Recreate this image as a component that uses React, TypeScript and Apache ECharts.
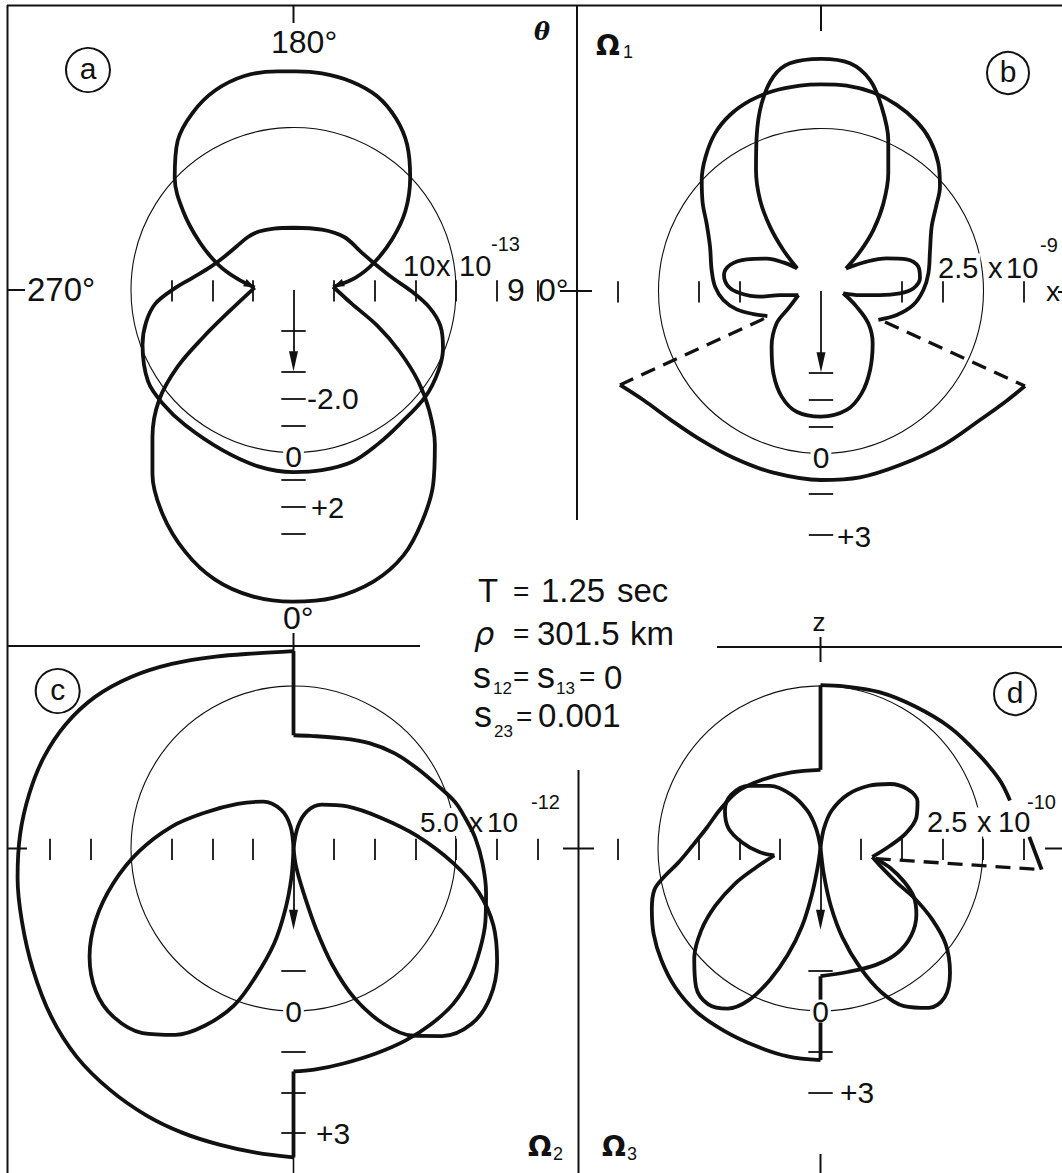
import { useEffect, useRef } from 'react';
import * as echarts from 'echarts';

type Pt = [number, number];

const PAGE_W = 1062;
const PAGE_H = 1173;
const UNIT_PX = 162.5; // page radius of every reference circle
const INK = '#111';
const SANS = '"Liberation Sans", Arial, sans-serif';

// Panel centres on the page (layout only)
const PANEL_CENTERS: Pt[] = [
  [293.5, 290],
  [821, 291],
  [293.5, 848.5],
  [820.5, 848.5],
];

// All curve points are in units of the panel's reference circle (x right, y up).

// ---- (a) reference circle 10 x 10^-13 ----
const A_UPPER_LOBE: Pt[] = [
  [-0.239, 0.015], [-0.349, 0.071], [-0.462, 0.155], [-0.576, 0.292], [-0.679, 0.485], [-0.731, 0.69],
  [-0.713, 0.918], [-0.622, 1.089], [-0.485, 1.226], [-0.303, 1.317], [-0.098, 1.346], [0.016, 1.346],
  [0.175, 1.333], [0.358, 1.282], [0.517, 1.191], [0.631, 1.055], [0.699, 0.895], [0.718, 0.69],
  [0.688, 0.485], [0.608, 0.314], [0.494, 0.166], [0.38, 0.075], [0.244, 0.02],
];
const A_LOWER_LOBE: Pt[] = [
  [0.244, 0.02], [0.358, -0.084], [0.517, -0.221], [0.654, -0.38], [0.768, -0.563], [0.836, -0.745],
  [0.87, -0.95], [0.859, -1.2], [0.79, -1.428], [0.677, -1.633], [0.494, -1.793], [0.244, -1.895],
  [-0.007, -1.918], [-0.257, -1.884], [-0.485, -1.781], [-0.667, -1.61], [-0.804, -1.383], [-0.868, -1.132],
  [-0.868, -0.904], [-0.827, -0.677], [-0.713, -0.472], [-0.554, -0.289], [-0.394, -0.13], [-0.239, 0.015],
];
const A_INNER_LOOP: Pt[] = [
  [0, 0.383], [0.175, 0.371], [0.312, 0.326], [0.415, 0.235], [0.494, 0.166], [0.608, 0.075], [0.722, -0.005],
  [0.836, -0.107], [0.904, -0.221], [0.92, -0.358], [0.893, -0.494], [0.813, -0.654], [0.654, -0.825],
  [0.517, -0.95], [0.358, -1.059], [0.175, -1.109], [0, -1.121], [-0.212, -1.087], [-0.44, -0.984],
  [-0.667, -0.831], [-0.804, -0.7], [-0.895, -0.563], [-0.929, -0.335], [-0.907, -0.198], [-0.85, -0.084],
  [-0.736, 0.007], [-0.622, 0.075], [-0.508, 0.144], [-0.417, 0.212], [-0.349, 0.269], [-0.28, 0.326],
  [-0.212, 0.36], [-0.121, 0.378], [0, 0.383],
];

// ---- (b) reference circle 2.5 x 10^-9 ----
const B_OUTER: Pt[] = [
  [-0.33, -0.154], [-0.416, -0.142], [-0.519, -0.113], [-0.601, -0.055], [-0.652, 0.027], [-0.673, 0.129],
  [-0.683, 0.273], [-0.704, 0.416], [-0.728, 0.539], [-0.734, 0.683], [-0.71, 0.827], [-0.652, 0.97],
  [-0.56, 1.083], [-0.437, 1.171], [-0.293, 1.231], [-0.129, 1.264], [0, 1.272], [0.158, 1.264],
  [0.322, 1.221], [0.466, 1.145], [0.589, 1.042], [0.671, 0.929], [0.722, 0.786], [0.732, 0.642],
  [0.708, 0.519], [0.681, 0.396], [0.671, 0.252], [0.661, 0.109], [0.63, 0.006], [0.568, -0.086],
  [0.466, -0.148], [0.353, -0.178],
];
const B_DASH_LEFT: Pt[] = [[-0.351, -0.17], [-1.237, -0.578]];
const B_DASH_RIGHT: Pt[] = [[0.394, -0.191], [1.255, -0.585]];
const B_BOTTOM: Pt[] = [
  [-1.237, -0.578], [-1.093, -0.671], [-0.929, -0.79], [-0.745, -0.913], [-0.539, -1.026], [-0.293, -1.118],
  [0, -1.163], [0.24, -1.147], [0.486, -1.071], [0.753, -0.948], [0.978, -0.794], [1.143, -0.675], [1.255, -0.585],
];
const B_LOBE_TOP: Pt[] = [
  [-0.146, 0.139], [-0.232, 0.252], [-0.314, 0.396], [-0.375, 0.56], [-0.4, 0.745], [-0.396, 0.95],
  [-0.365, 1.155], [-0.293, 1.319], [-0.191, 1.401], [0, 1.428], [0.178, 1.401], [0.302, 1.298],
  [0.373, 1.134], [0.414, 0.929], [0.414, 0.724], [0.384, 0.539], [0.322, 0.375], [0.24, 0.242], [0.154, 0.139],
];
const B_LOBE_RIGHT: Pt[] = [
  [0.154, 0.139], [0.281, 0.181], [0.404, 0.201], [0.527, 0.195], [0.599, 0.15], [0.609, 0.078],
  [0.568, 0.016], [0.486, -0.014], [0.363, -0.025], [0.24, -0.025], [0.137, -0.014],
];
const B_LOBE_BOTTOM: Pt[] = [
  [0.137, -0.014], [0.219, -0.096], [0.291, -0.199], [0.318, -0.322], [0.302, -0.486], [0.25, -0.63],
  [0.158, -0.732], [0, -0.773], [-0.15, -0.743], [-0.242, -0.65], [-0.293, -0.507], [-0.304, -0.343],
  [-0.273, -0.199], [-0.201, -0.107], [-0.139, -0.025],
];
const B_LOBE_LEFT: Pt[] = [
  [-0.139, -0.025], [-0.252, -0.025], [-0.375, -0.035], [-0.498, -0.014], [-0.57, 0.027], [-0.597, 0.098],
  [-0.56, 0.16], [-0.457, 0.195], [-0.334, 0.199], [-0.232, 0.176], [-0.146, 0.139],
];

// ---- (c) reference circle 5.0 x 10^-12 ----
const C_STEM_TOP: Pt[] = [[0, 1.215], [0, 0.697]];
const C_OUTER_RIGHT: Pt[] = [
  [0, 0.697], [0.106, 0.693], [0.286, 0.679], [0.466, 0.648], [0.623, 0.585], [0.758, 0.495], [0.893, 0.382],
  [0.994, 0.286], [1.055, 0.191], [1.118, 0.067], [1.163, -0.09], [1.185, -0.27], [1.181, -0.45],
  [1.145, -0.63], [1.084, -0.798], [0.983, -0.956], [0.848, -1.08], [0.691, -1.181], [0.511, -1.26],
  [0.308, -1.323], [0.128, -1.361], [0, -1.372],
];
const C_STEM_BOTTOM: Pt[] = [[0, -1.372], [0, -1.901]];
const C_OUTER_LEFT: Pt[] = [
  [0, -1.901], [-0.232, -1.871], [-0.457, -1.822], [-0.682, -1.75], [-0.906, -1.642], [-1.131, -1.484],
  [-1.334, -1.282], [-1.491, -1.035], [-1.604, -0.742], [-1.671, -0.45], [-1.698, -0.18], [-1.682, 0.09],
  [-1.626, 0.337], [-1.536, 0.562], [-1.401, 0.765], [-1.221, 0.933], [-0.996, 1.057], [-0.749, 1.136],
  [-0.479, 1.181], [-0.232, 1.201], [0, 1.215],
];
const C_LOBE_LEFT: Pt[] = [
  [0, 0], [-0.018, 0.135], [-0.074, 0.236], [-0.187, 0.288], [-0.344, 0.274], [-0.547, 0.22], [-0.749, 0.135],
  [-0.951, -0.018], [-1.109, -0.214], [-1.217, -0.439], [-1.255, -0.664], [-1.217, -0.877], [-1.109, -1.035],
  [-0.929, -1.136], [-0.726, -1.147], [-0.547, -1.091], [-0.367, -0.967], [-0.232, -0.787], [-0.119, -0.585],
  [-0.052, -0.382], [-0.013, -0.18], [0, 0],
];
const C_LOBE_RIGHT: Pt[] = [
  [0, 0], [0.027, 0.135], [0.083, 0.229], [0.173, 0.27], [0.331, 0.259], [0.533, 0.191], [0.758, 0.079],
  [0.983, -0.09], [1.14, -0.27], [1.23, -0.472], [1.253, -0.697], [1.208, -0.922], [1.095, -1.08],
  [0.915, -1.154], [0.735, -1.152], [0.556, -1.08], [0.376, -0.922], [0.241, -0.72], [0.139, -0.495],
  [0.061, -0.27], [0.016, -0.112], [0, 0],
];

// ---- (d) reference circle 2.5 x 10^-10 ----
const D_STEM_TOP: Pt[] = [[0, 1.005], [0, 0.484]];
const D_OUTER_LEFT: Pt[] = [
  [0, 0.484], [-0.18, 0.469], [-0.354, 0.425], [-0.506, 0.354], [-0.614, 0.245], [-0.701, 0.126],
  [-0.788, 0.017], [-0.875, -0.087], [-0.962, -0.174], [-1.022, -0.254], [-1.038, -0.373], [-1.027, -0.525],
  [-0.979, -0.688], [-0.896, -0.851], [-0.766, -1.003], [-0.593, -1.122], [-0.397, -1.216], [-0.202, -1.279],
  [0, -1.302],
];
const D_STEM_LOW_A: Pt[] = [[0, -1.302], [0, -1.07]];
const D_STEM_LOW_B: Pt[] = [[0, -0.93], [0, -0.786]];
const D_OUTER_RIGHT_LOW: Pt[] = [
  [0, -0.786], [0.167, -0.76], [0.341, -0.716], [0.471, -0.645], [0.558, -0.536], [0.59, -0.406],
  [0.575, -0.3], [0.515, -0.205], [0.43, -0.12], [0.34, -0.062],
];
const D_DASH: Pt[] = [[0.34, -0.062], [1.361, -0.13]];
const D_TAIL: Pt[] = [[1.361, -0.13], [1.285, 0.072]];
const D_OUTER_TOP_RIGHT: Pt[] = [
  [1.166, 0.295], [1.1, 0.425], [0.97, 0.582], [0.797, 0.745], [0.58, 0.875], [0.362, 0.962], [0.145, 0.998], [0, 1.005],
];
const D_LOBE_UL: Pt[] = [
  [0, 0.007], [-0.028, 0.126], [-0.082, 0.234], [-0.18, 0.332], [-0.31, 0.386], [-0.441, 0.386], [-0.549, 0.332],
  [-0.588, 0.234], [-0.567, 0.126], [-0.484, 0.039], [-0.376, -0.022], [-0.284, -0.043],
];
const D_LOBE_LL: Pt[] = [
  [-0.284, -0.043], [-0.397, -0.117], [-0.527, -0.217], [-0.647, -0.352], [-0.734, -0.504], [-0.777, -0.677],
  [-0.766, -0.851], [-0.69, -0.959], [-0.571, -0.985], [-0.441, -0.933], [-0.31, -0.807], [-0.202, -0.656],
  [-0.115, -0.482], [-0.054, -0.287], [-0.017, -0.113], [0, 0.007],
];
const D_LOBE_LR: Pt[] = [
  [0, 0.007], [0.02, -0.156], [0.063, -0.352], [0.135, -0.547], [0.243, -0.732], [0.373, -0.883], [0.514, -0.97],
  [0.666, -0.981], [0.764, -0.916], [0.797, -0.764], [0.771, -0.59], [0.688, -0.438], [0.58, -0.308],
  [0.471, -0.211], [0.384, -0.124], [0.319, -0.052],
];
const D_LOBE_UR: Pt[] = [
  [0.319, -0.052], [0.428, 0.017], [0.525, 0.093], [0.59, 0.191], [0.597, 0.289], [0.536, 0.365], [0.428, 0.397],
  [0.297, 0.386], [0.167, 0.332], [0.069, 0.234], [0.022, 0.126], [0, 0.007],
];

// Tick positions along each horizontal axis (units of the reference circle)
const A_AXIS_TICKS = [-0.75, -0.5, -0.25, 0.25, 0.5, 0.75, 1, 1.25, 1.5];
const B_AXIS_TICKS = [-1.25, -0.75, -0.5, 0.5, 0.75, 1.25];
const C_AXIS_TICKS = [-1.5, -1.25, -0.75, -0.5, -0.25, 0.25, 0.5, 0.75, 1, 1.25, 1.5];
const D_AXIS_TICKS = [-1.25, -0.75, -0.5, -0.25, 0.25, 0.5, 0.75, 1, 1.25];

// Vertical scale below each pattern: zero sits on the circle, one step per unit
const A_SCALE = { step: 1 / 6, ticks: [-4.5, -3, -2, -1, 1, 2, 3] };
const B_SCALE = { step: 1 / 6, ticks: [-3, -2, -1, 1.5, 3] };
const C_SCALE = { step: 1 / 4, ticks: [-1, 1, 2, 3] };
const D_SCALE = { step: 1 / 6, ticks: [-1.5, 1.5, 3] };

const AXIS_TICKS = [A_AXIS_TICKS, B_AXIS_TICKS, C_AXIS_TICKS, D_AXIS_TICKS];
const SCALES = [A_SCALE, B_SCALE, C_SCALE, D_SCALE];
const scaleY = (s: { step: number }, v: number) => -1 - v * s.step;

type Curve = { p: number; d: Pt[]; dashed?: boolean; straight?: boolean };
const CURVES: Curve[] = [
  { p: 0, d: A_UPPER_LOBE }, { p: 0, d: A_LOWER_LOBE }, { p: 0, d: A_INNER_LOOP },
  { p: 1, d: B_OUTER }, { p: 1, d: B_DASH_LEFT, dashed: true }, { p: 1, d: B_DASH_RIGHT, dashed: true },
  { p: 1, d: B_BOTTOM }, { p: 1, d: B_LOBE_TOP }, { p: 1, d: B_LOBE_RIGHT }, { p: 1, d: B_LOBE_BOTTOM },
  { p: 1, d: B_LOBE_LEFT },
  { p: 2, d: C_STEM_TOP, straight: true }, { p: 2, d: C_OUTER_RIGHT }, { p: 2, d: C_STEM_BOTTOM, straight: true },
  { p: 2, d: C_OUTER_LEFT }, { p: 2, d: C_LOBE_LEFT }, { p: 2, d: C_LOBE_RIGHT },
  { p: 3, d: D_STEM_TOP, straight: true }, { p: 3, d: D_OUTER_LEFT }, { p: 3, d: D_STEM_LOW_A, straight: true },
  { p: 3, d: D_STEM_LOW_B, straight: true }, { p: 3, d: D_OUTER_RIGHT_LOW }, { p: 3, d: D_DASH, dashed: true },
  { p: 3, d: D_TAIL, straight: true }, { p: 3, d: D_OUTER_TOP_RIGHT }, { p: 3, d: D_LOBE_UL },
  { p: 3, d: D_LOBE_LL }, { p: 3, d: D_LOBE_LR }, { p: 3, d: D_LOBE_UR },
];

function buildOption() {
  const grid = PANEL_CENTERS.map(() => ({ left: 0, top: 0, width: PAGE_W, height: PAGE_H }));
  const xAxis = PANEL_CENTERS.map(([cx], i) => ({
    type: 'value', gridIndex: i, min: -cx / UNIT_PX, max: (PAGE_W - cx) / UNIT_PX, show: false,
  }));
  const yAxis = PANEL_CENTERS.map(([, cy], i) => ({
    type: 'value', gridIndex: i, min: -(PAGE_H - cy) / UNIT_PX, max: cy / UNIT_PX, show: false,
  }));

  const curveSeries = CURVES.map((c) => ({
    type: 'line',
    xAxisIndex: c.p,
    yAxisIndex: c.p,
    data: c.d,
    showSymbol: false,
    symbol: 'none',
    smooth: c.straight || c.dashed ? false : 0.35,
    silent: true,
    z: 3,
    lineStyle: {
      color: INK,
      width: c.dashed ? 3.3 : 3.8,
      type: c.dashed ? [15, 9] : 'solid',
      cap: 'butt',
      join: 'round',
    },
  }));

  const markSeries = PANEL_CENTERS.map((_, p) => {
    const segs: Pt[][] = [];
    AXIS_TICKS[p].forEach((t) => segs.push([[t, -0.07], [t, 0.06]]));
    const s = SCALES[p];
    s.ticks.forEach((v) => segs.push([[-0.075, scaleY(s, v)], [0.075, scaleY(s, v)]]));
    segs.push([[0, 0], [0, -0.45]]); // arrow shaft
    return {
      type: 'lines',
      coordinateSystem: 'cartesian2d',
      xAxisIndex: p,
      yAxisIndex: p,
      silent: true,
      z: 2,
      symbol: 'none',
      lineStyle: { color: INK, width: 1.8, opacity: 1, curveness: 0 },
      data: segs.map((coords) => ({ coords })),
    };
  });

  return {
    animation: false,
    backgroundColor: '#fff',
    grid,
    xAxis,
    yAxis,
    series: [...curveSeries, ...markSeries],
  };
}

function buildGraphic(chart: echarts.ECharts) {
  const px = (p: number, pt: Pt) => chart.convertToPixel({ gridIndex: p }, pt) as unknown as Pt;
  const g: any[] = [];

  const line = (x1: number, y1: number, x2: number, y2: number, w = 2) =>
    g.push({ type: 'line', z: 0, silent: true, shape: { x1, y1, x2, y2 }, style: { stroke: INK, lineWidth: w } });

  const text = (
    x: number, y: number, s: string, size: number,
    o: { align?: string; font?: string; bg?: boolean; weight?: string } = {},
  ) =>
    g.push({
      type: 'text', z: 1, silent: true, x, y,
      style: {
        text: s,
        font: `${o.weight ?? ''} ${size}px ${o.font ?? SANS}`,
        fill: INK,
        align: o.align ?? 'left',
        verticalAlign: 'middle',
        textAlign: o.align ?? 'left',
        textVerticalAlign: 'middle',
        backgroundColor: o.bg ? '#fff' : undefined,
        padding: o.bg ? [0, 2, 0, 2] : undefined,
      },
    });

  const head = (tip: Pt, from: Pt, len: number, half: number) => {
    const dx = tip[0] - from[0];
    const dy = tip[1] - from[1];
    const n = Math.hypot(dx, dy) || 1;
    const ux = dx / n, uy = dy / n;
    const bx = tip[0] - ux * len, by = tip[1] - uy * len;
    g.push({
      type: 'polygon', z: 10, silent: true,
      shape: { points: [tip, [bx - uy * half, by + ux * half], [bx + uy * half, by - ux * half]] },
      style: { fill: INK },
    });
  };

  // reference circles and axis arrows
  PANEL_CENTERS.forEach((_, p) => {
    const c = px(p, [0, 0]);
    const e = px(p, [1, 0]);
    g.push({
      type: 'circle', z: 0, silent: true,
      shape: { cx: c[0], cy: c[1], r: e[0] - c[0] },
      style: { fill: 'none', stroke: INK, lineWidth: 1.1 },
    });
    head(px(p, [0, -0.5]), c, 20, 4.5);
  });
  // small arrowheads where the upper lobe of (a) returns to the axis
  head(px(0, A_UPPER_LOBE[0]), px(0, A_UPPER_LOBE[1]), 11, 4);
  head(px(0, A_UPPER_LOBE[A_UPPER_LOBE.length - 1]), px(0, A_UPPER_LOBE[A_UPPER_LOBE.length - 2]), 11, 4);

  // frame and dividers
  line(7, 5.5, PAGE_W, 5.5, 2);
  line(7.5, 5, 7.5, PAGE_H, 2);
  line(7, 646, 420, 646, 1.8);
  line(717, 647, PAGE_W, 647, 1.8);
  line(577, 5, 577, 520, 2);
  line(578.5, 770, 578.5, PAGE_H, 2);
  // axis stubs
  line(293.5, 5, 293.5, 23, 2);
  line(821, 5, 821, 31, 2);
  line(293.5, 633, 293.5, 655, 2);
  line(820.5, 637, 820.5, 662, 2);
  line(820.5, 1154, 820.5, PAGE_H, 2);
  line(293.5, 1157, 293.5, PAGE_H, 1.6);
  line(8, 290, 25, 290, 2);
  line(560, 291, 592, 291, 2);
  line(1058, 292, PAGE_W, 292, 2);
  line(8, 848.5, 27, 848.5, 2);
  line(563, 848.5, 594, 848.5, 2);
  line(1045, 848.5, PAGE_W, 848.5, 2);

  // panel letters
  const badge = (cx: number, cy: number, r: number, s: string) => {
    g.push({
      type: 'circle', z: 1, silent: true, shape: { cx, cy, r },
      style: { fill: '#fff', stroke: INK, lineWidth: 2 },
    });
    g.push({
      type: 'text', z: 2, silent: true, x: cx, y: cy - 2,
      style: {
        text: s, font: `30px ${SANS}`, fill: INK, align: 'center', verticalAlign: 'middle',
        textAlign: 'center', textVerticalAlign: 'middle',
      },
    });
  };
  badge(88, 70, 22, 'a');
  badge(1008, 73, 21, 'b');
  badge(57.7, 691, 22, 'c');
  badge(1015, 694, 21, 'd');

  // (a) labels
  text(271, 42, '180°', 32);
  text(27, 289, '270°', 33);
  text(507, 290, '9', 32);
  text(538, 290, '0°', 32);
  text(401, 266, '10', 29, { bg: true });
  text(436, 266, 'x', 29);
  text(459, 266, '10', 29);
  text(491, 244, '-13', 20);
  text(307, 398, '-2.0', 30);
  text(293.5, 456, '0', 30, { align: 'center', bg: true });
  text(311, 508, '+2', 29);

  // (b) labels
  text(542, 31, 'θ', 24, { align: 'center', font: '"DejaVu Serif", serif', weight: 'italic bold' });
  text(608, 45, 'Ω', 28, { align: 'center', font: '"DejaVu Sans", sans-serif', weight: 'bold' });
  text(623, 52, '1', 18);
  text(936, 268, '2.5', 29, { bg: true });
  text(988, 268, 'x', 29);
  text(1006, 268, '10', 29);
  text(1040, 245, '-9', 20);
  text(1046, 291, 'x', 28);
  text(821, 457, '0', 30, { align: 'center', bg: true });
  text(837, 536, '+3', 30);

  // (c) labels
  text(283, 618, '0°', 32);
  text(418, 822, '5.0', 28, { bg: true });
  text(469, 822, 'x', 28);
  text(487, 822, '10', 28);
  text(531, 802, '-12', 20);
  text(293.5, 1011, '0', 30, { align: 'center', bg: true });
  text(316, 1133, '+3', 30);
  text(540, 1146, 'Ω', 28, { align: 'center', font: '"DejaVu Sans", sans-serif', weight: 'bold' });
  text(553, 1154, '2', 18);

  // (d) labels
  text(819, 622, 'z', 26, { align: 'center' });
  text(925, 822, '2.5', 29, { bg: true });
  text(975, 822, 'x', 29, { bg: true });
  text(998, 822, '10', 29);
  text(1027, 802, '-10', 20);
  text(820.5, 1011, '0', 30, { align: 'center', bg: true });
  text(840, 1092, '+3', 30);
  text(614, 1146, 'Ω', 28, { align: 'center', font: '"DejaVu Sans", sans-serif', weight: 'bold' });
  text(627, 1154, '3', 18);

  // run parameters
  text(478, 590, 'T', 33);
  text(513, 591, '=', 28);
  text(541, 590, '1.25', 33);
  text(617, 590, 'sec', 33);
  text(474, 634, 'ρ', 32, { font: '"DejaVu Sans", sans-serif', weight: 'italic' });
  text(513, 633, '=', 28);
  text(537, 633, '301.5', 33);
  text(630, 633, 'km', 33);
  text(473, 675, 's', 36);
  text(493, 688, '12', 17);
  text(513, 676, '=', 28);
  text(537, 675, 's', 36);
  text(556, 688, '13', 17);
  text(579, 676, '=', 28);
  text(604, 677, '0', 33);
  text(474, 714, 's', 36);
  text(494, 731, '23', 17);
  text(516, 716, '=', 28);
  text(538, 715, '0.001', 33);

  return g;
}

export default function App() {
  const ref = useRef<HTMLDivElement>(null);
  useEffect(() => {
    if (!ref.current) return;
    const chart = echarts.init(ref.current, null, { renderer: 'svg' });
    chart.setOption(buildOption() as any);
    chart.setOption({ graphic: buildGraphic(chart) } as any);
    return () => chart.dispose();
  }, []);
  return (
    <div
      ref={ref}
      style={{ position: 'absolute', left: 0, top: 0, width: PAGE_W, height: PAGE_H, background: '#fff' }}
    />
  );
}
